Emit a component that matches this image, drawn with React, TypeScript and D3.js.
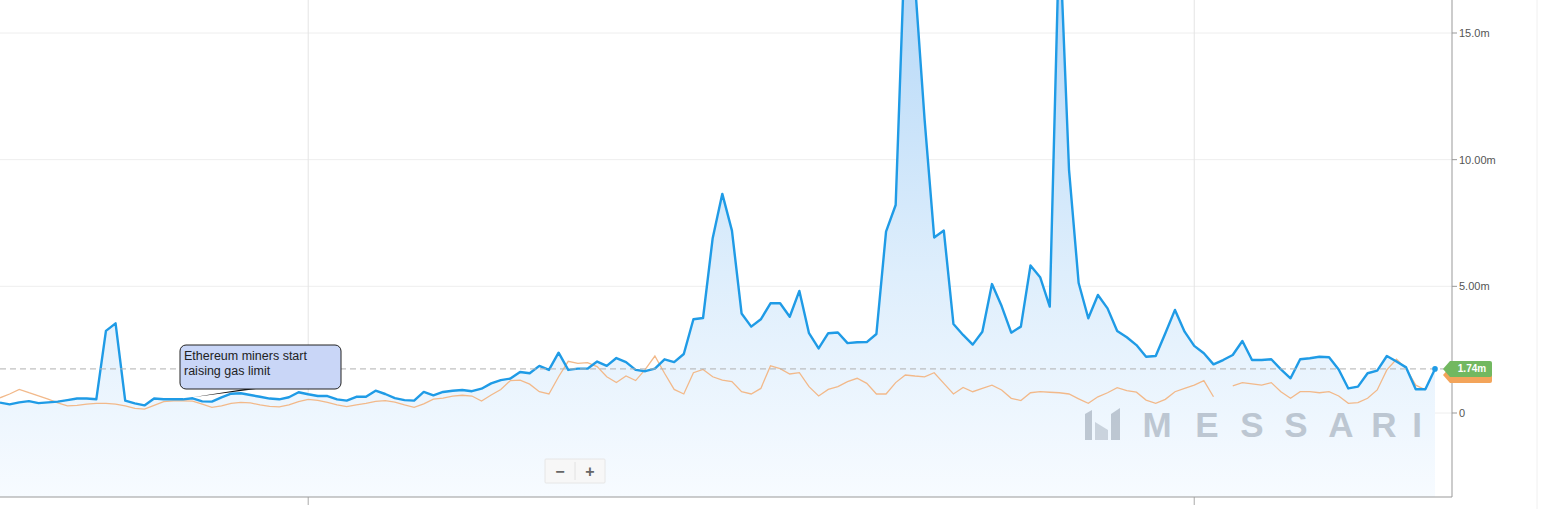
import React from "react";
import * as d3 from "d3";

// ---- data ----
const startDate = Date.UTC(2020, 4, 30);
const dayCount = 150;
const dates: Date[] = d3.utcDay.range(new Date(startDate), new Date(startDate + dayCount * 86400000));

const gasSeries: number[] = [
  0.41, 0.34, 0.42, 0.47, 0.39, 0.42, 0.45, 0.51, 0.57, 0.57,
  0.54, 3.24, 3.54, 0.49, 0.38, 0.30, 0.57, 0.54, 0.54, 0.54,
  0.58, 0.46, 0.45, 0.62, 0.76, 0.78, 0.71, 0.64, 0.57, 0.54,
  0.62, 0.82, 0.74, 0.67, 0.67, 0.54, 0.49, 0.64, 0.64, 0.88,
  0.75, 0.59, 0.51, 0.49, 0.83, 0.70, 0.83, 0.88, 0.91, 0.86,
  0.96, 1.17, 1.30, 1.36, 1.62, 1.57, 1.86, 1.70, 2.38, 1.70,
  1.75, 1.75, 2.03, 1.86, 2.17, 2.01, 1.70, 1.65, 1.75, 2.12,
  2.01, 2.33, 3.70, 3.75, 6.90, 8.65, 7.20, 3.93, 3.41, 3.70,
  4.33, 4.33, 3.80, 4.82, 3.15, 2.55, 3.15, 3.18, 2.76, 2.79,
  2.80, 3.12, 7.16, 8.21, 19.0, 17.0, 11.6, 6.93, 7.20, 3.51,
  3.08, 2.70, 3.21, 5.09, 4.22, 3.17, 3.41, 5.82, 5.36, 4.20,
  19.1, 9.6, 5.13, 3.74, 4.66, 4.13, 3.24, 2.99, 2.68, 2.22,
  2.25, 3.15, 4.07, 3.21, 2.65, 2.36, 1.92, 2.09, 2.29, 2.84,
  2.09, 2.09, 2.12, 1.72, 1.37, 2.12, 2.16, 2.22, 2.20, 1.72,
  0.97, 1.04, 1.57, 1.67, 2.25, 2.03, 1.80, 0.94, 0.94, 1.74,
];

const compareSeries: (number | null)[] = [
  0.60, 0.75, 0.93, 0.80, 0.68, 0.55, 0.40, 0.28, 0.30, 0.35,
  0.38, 0.38, 0.35, 0.28, 0.18, 0.15, 0.30, 0.45, 0.48, 0.48,
  0.47, 0.35, 0.22, 0.28, 0.38, 0.42, 0.40, 0.32, 0.26, 0.24,
  0.32, 0.45, 0.54, 0.50, 0.42, 0.32, 0.25, 0.32, 0.38, 0.46,
  0.49, 0.43, 0.32, 0.22, 0.36, 0.55, 0.59, 0.67, 0.70, 0.67,
  0.47, 0.71, 0.93, 1.28, 1.30, 1.14, 0.84, 0.75, 1.43, 2.04,
  1.96, 1.99, 1.83, 1.43, 1.20, 1.46, 1.28, 1.72, 2.25, 1.57,
  0.93, 0.75, 1.59, 1.72, 1.43, 1.30, 1.24, 0.84, 0.75, 0.97,
  1.86, 1.75, 1.54, 1.59, 1.04, 0.67, 0.93, 1.04, 1.24, 1.37,
  1.17, 0.75, 0.75, 1.20, 1.50, 1.46, 1.43, 1.59, 1.17, 0.75,
  1.01, 0.84, 0.97, 1.10, 0.91, 0.58, 0.49, 0.80, 0.84, 0.82,
  0.80, 0.75, 0.56, 0.38, 0.64, 0.80, 1.00, 0.88, 0.82, 0.51,
  0.38, 0.54, 0.84, 0.97, 1.10, 1.28, 0.64, null, 1.07, 1.20,
  1.15, 1.10, 1.20, 0.84, 0.58, 0.84, 0.84, 0.80, 0.84, 0.67,
  0.38, 0.41, 0.58, 0.91, 1.70, 2.12, 1.76, 1.10, 0.91, null,
];

const yTicks: number[] = [0, 5, 10, 15];
const yTickLabels: string[] = ["0", "5.00m", "10.00m", "15.0m"];
const currentLabel = "1.74m";
const annotationLines: string[] = ["Ethereum miners start", "raising gas limit"];
const annotationIndex = 20;
const watermarkLetters: string[] = ["M", "E", "S", "S", "A", "R", "I"];

// ---- layout ----
const W = 1545;
const H = 509;
const plotLeft = 0;
const lastX = 1435;
const axisX = 1452;
const plotTop = 0;
const plotBottom = 497;

export default function App() {
  const x = d3.scaleUtc().domain([dates[0], dates[dates.length - 1]]).range([plotLeft, lastX]);
  const y = d3.scaleLinear().domain([0, 15]).range([413, 33]);

  const line = d3
    .line<number>()
    .x((_, i) => x(dates[i]))
    .y((d) => y(d));
  const area = d3
    .area<number>()
    .x((_, i) => x(dates[i]))
    .y0(plotBottom)
    .y1((d) => y(d));
  const line2 = d3
    .line<number | null>()
    .defined((d) => d != null)
    .x((_, i) => x(dates[i]))
    .y((d) => y(d as number));

  const monthTicks = x.ticks(d3.utcMonth.every(3) as any);
  const last = gasSeries[gasSeries.length - 1];
  const lastY = y(last);
  const lx = x(dates[dates.length - 1]);

  const ax = x(dates[annotationIndex]);
  const ayPoint = y(gasSeries[annotationIndex]) - 1;

  const tagPath = (ty: number) =>
    `M${axisX - 9},${ty} L${axisX - 2},${ty - 8} L${axisX + 38},${ty - 8} Q${axisX + 40},${ty - 8} ${axisX + 40},${ty - 6} L${axisX + 40},${ty + 6} Q${axisX + 40},${ty + 8} ${axisX + 38},${ty + 8} L${axisX - 2},${ty + 8} Z`;

  const letterCenters = [1157, 1207, 1252, 1296, 1341, 1384, 1417];

  return (
    <svg
      width={W}
      height={H}
      style={{ position: "fixed", left: 0, top: 0, background: "#fff" }}
      fontFamily="'Liberation Sans', Arial, sans-serif"
    >
      <defs>
        <linearGradient id="areaGrad" gradientUnits="userSpaceOnUse" x1="0" y1={plotTop} x2="0" y2={plotBottom}>
          <stop offset="0" stopColor="#b9daf8" />
          <stop offset="0.55" stopColor="#deeefc" />
          <stop offset="1" stopColor="#f7fbff" />
        </linearGradient>
        <clipPath id="plotClip">
          <rect x={plotLeft} y={plotTop} width={axisX - plotLeft} height={plotBottom - plotTop} />
        </clipPath>
      </defs>

      {/* faint right panel edge */}
      <line x1={1537} x2={1537} y1={0} y2={H} stroke="#f0f0f0" />

      {/* horizontal grid */}
      {yTicks.map((t) => (
        <line key={"hg" + t} x1={plotLeft} x2={axisX} y1={y(t)} y2={y(t)} stroke="#eeeeee" strokeWidth={1} />
      ))}
      {/* vertical grid */}
      {monthTicks.map((d, i) => (
        <g key={"vg" + i}>
          <line x1={x(d)} x2={x(d)} y1={plotTop} y2={plotBottom} stroke="#e4e4e4" strokeWidth={1} />
          <line x1={x(d)} x2={x(d)} y1={plotBottom} y2={plotBottom + 8} stroke="#aaa" strokeWidth={1} />
        </g>
      ))}

      <g clipPath="url(#plotClip)">
        <path d={area(gasSeries) || ""} fill="url(#areaGrad)" />

        {/* watermark */}
        <g fill="#a8b3c0" opacity={0.7}>
          <polygon points="1085,414 1092,410 1092,440 1085,440" />
          <polygon points="1095,422 1108,430 1108,440 1095,440" opacity={0.75} />
          <polygon points="1111,414 1120,408 1120,440 1111,440" />
        </g>
        {watermarkLetters.map((l, i) => (
          <text
            key={"wm" + i}
            x={letterCenters[i]}
            y={437}
            textAnchor="middle"
            fontSize={35}
            fontWeight="bold"
            fill="#a8b3c0"
            opacity={0.7}
          >
            {l}
          </text>
        ))}

        <path d={line2(compareSeries) || ""} fill="none" stroke="#f2b98a" strokeWidth={1.3} />
        <path d={line(gasSeries) || ""} fill="none" stroke="#1f9be6" strokeWidth={2.4} strokeLinejoin="round" />
      </g>

      {/* current value dashed line */}
      <line x1={plotLeft} x2={axisX - 8} y1={lastY} y2={lastY} stroke="#b0b0b0" strokeDasharray="6,4" strokeWidth={1} />
      <circle cx={lx} cy={lastY} r={2.8} fill="#1f9be6" />

      {/* axes */}
      <line x1={plotLeft} x2={axisX} y1={plotBottom} y2={plotBottom} stroke="#999" strokeWidth={1.2} />
      <line x1={axisX} x2={axisX} y1={0} y2={plotBottom} stroke="#999" strokeWidth={1} />
      {yTicks.map((t, i) => (
        <g key={"yt" + t}>
          <line x1={axisX} x2={axisX + 5} y1={y(t)} y2={y(t)} stroke="#999" />
          <text x={axisX + 7} y={y(t)} dy="0.35em" fontSize={11} fill="#555">
            {yTickLabels[i]}
          </text>
        </g>
      ))}

      {/* value tags */}
      <path d={tagPath(lastY + 6)} fill="#f3a45a" />
      <path d={tagPath(lastY)} fill="#72b860" />
      <text x={axisX + 20} y={lastY} dy="0.35em" textAnchor="middle" fontSize={10} fontWeight="bold" fill="#fff">
        {currentLabel}
      </text>

      {/* annotation */}
      <path d={`M${ax - 0},${ayPoint} L${ax + 57},${ayPoint - 9} L${ax + 69},${ayPoint - 9} Z`} fill="#111" />
      <rect x={180} y={345} width={161} height={44} rx={6} fill="#c9d6f7" stroke="#222" strokeWidth={1} />
      {annotationLines.map((t, i) => (
        <text key={"an" + i} x={184} y={360 + i * 15} fontSize={12.5} fill="#222">
          {t}
        </text>
      ))}

      {/* zoom buttons */}
      <g>
        <rect x={545} y={459} width={60} height={24} fill="#f7f7f7" stroke="#e6e6e6" rx={1} />
        <line x1={575} x2={575} y1={462} y2={480} stroke="#e2e2e2" />
        <text x={560} y={471} dy="0.35em" textAnchor="middle" fontSize={16} fontWeight="bold" fill="#666">
          −
        </text>
        <text x={590} y={471} dy="0.35em" textAnchor="middle" fontSize={16} fontWeight="bold" fill="#666">
          +
        </text>
      </g>
    </svg>
  );
}
